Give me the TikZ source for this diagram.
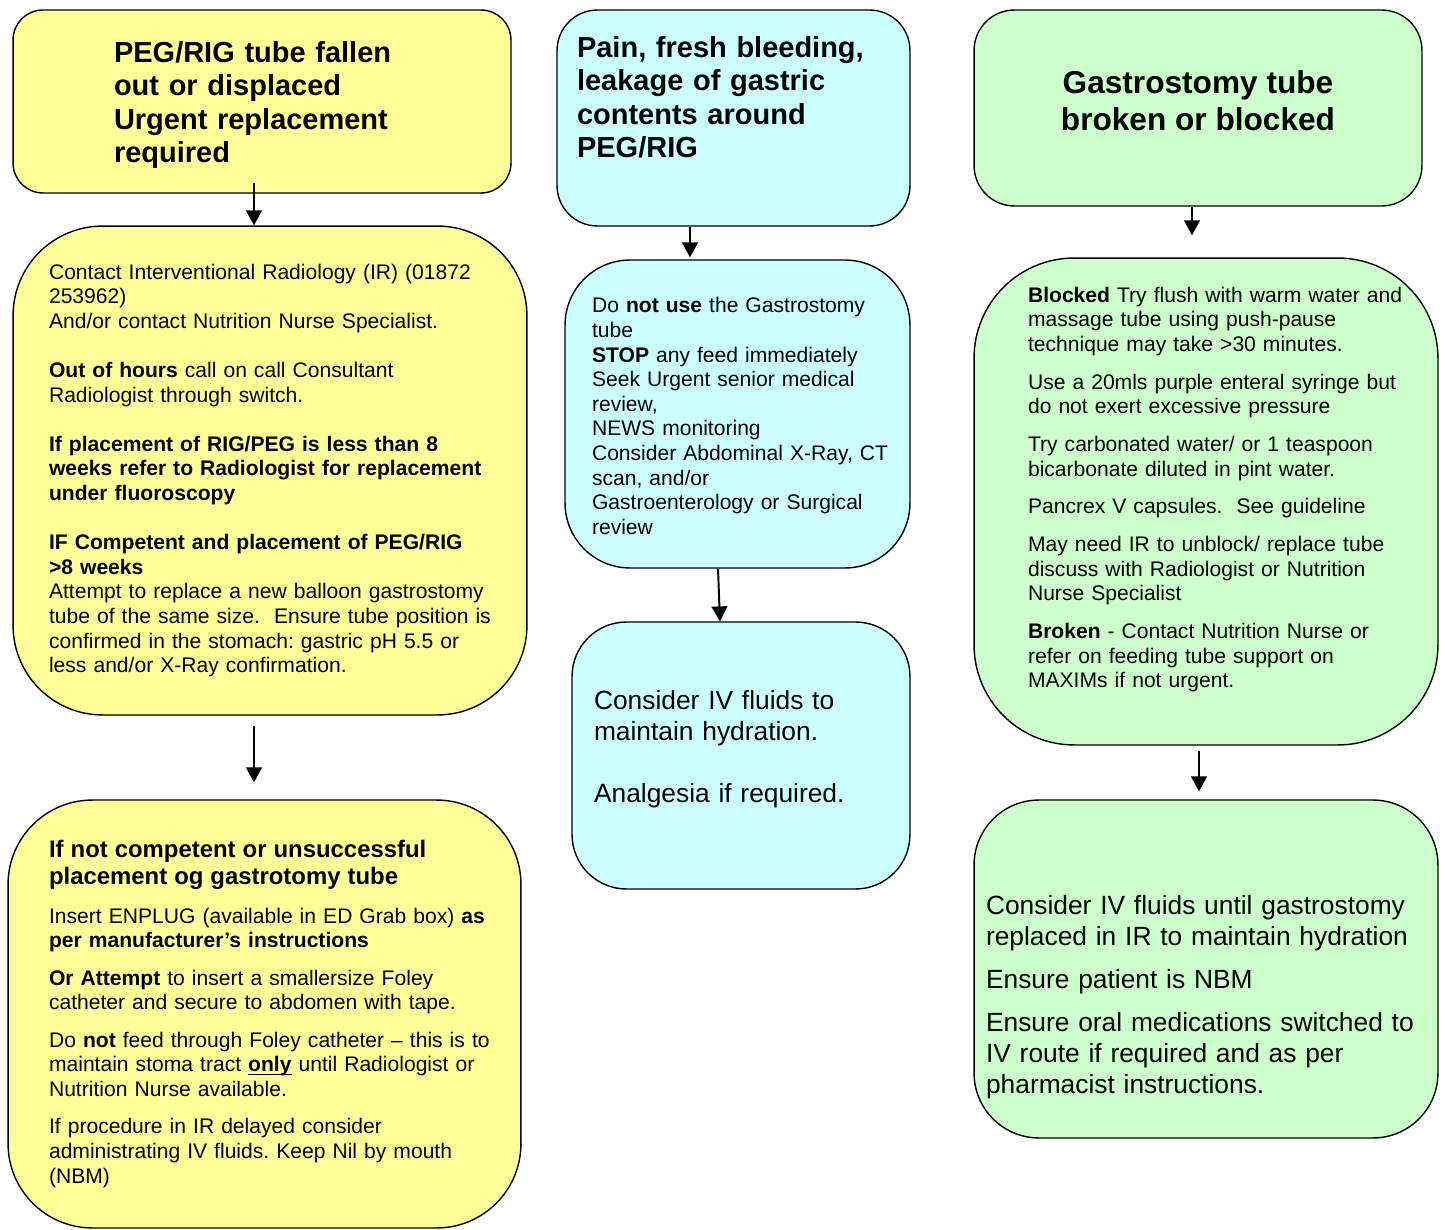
\documentclass[tikz,border=0pt]{standalone}
\usepackage{fontspec}
\setmainfont{Liberation Sans}
\usepackage{xcolor}
\usetikzlibrary{arrows, arrows.meta}
\definecolor{pegyellow}{HTML}{FFFF99}
\definecolor{painblue}{HTML}{CCFFFF}
\definecolor{tubegreen}{HTML}{CCFFCC}
\setlength{\parindent}{0pt}
\setlength{\parskip}{0pt}
\frenchspacing

\begin{document}
\begin{tikzpicture}[x=0.02cm, y=-0.02cm,
  box/.style={draw=black, line width=0.8pt, inner sep=0pt, align=left},
  head/.style={font=\fontsize{16.5}{19.1}\selectfont\bfseries},
  body/.style={font=\fontsize{12}{14}\selectfont},
  big/.style={font=\fontsize{15}{17.6}\selectfont},
  arr/.style={-{Triangle[width=9pt,length=8.5pt]}, line width=1.1pt}]
\useasboundingbox (0,0) rectangle (1445,1230);

\node[box, head, fill=pegyellow, rounded corners=17pt, minimum width=9.96cm, minimum height=3.66cm, text width=5.92cm] (fallen) at (262,101.5)
  {\rule{0pt}{16pt}PEG/RIG tube fallen\\ out or displaced\\ Urgent replacement\\ required};
\node[box, body, fill=pegyellow, rounded corners=51pt, minimum width=10.28cm, minimum height=9.78cm, text width=8.84cm] (contact) at (270,470.5)
  {Contact Interventional Radiology (IR) (01872\\ 253962)\\ And/or contact Nutrition Nurse Specialist.\par\vspace{14pt}
   \textbf{Out of hours} call on call Consultant\\ Radiologist through switch.\par\vspace{14pt}
   \textbf{If placement of RIG/PEG is less than 8\\ weeks refer to Radiologist for replacement\\ under fluoroscopy}\par\vspace{14pt}
   \textbf{IF Competent and placement of PEG/RIG\\ >8 weeks}\\ Attempt to replace a new balloon gastrostomy\\ \mbox{tube of the same size.\ \ Ensure tube position is}\\ confirmed in the stomach: gastric pH 5.5 or\\ less and/or X-Ray confirmation.};
\node[box, body, fill=pegyellow, rounded corners=48pt, minimum width=10.26cm, minimum height=8.56cm, text width=8.62cm] (enplug) at (264.5,1014)
  {{\fontsize{13.6}{15.3}\selectfont\bfseries If not competent or unsuccessful\\ placement og gastrotomy tube\par}\vspace{8pt}
   \mbox{Insert ENPLUG (available in ED Grab box) \textbf{as}}\\ \textbf{per manufacturer’s instructions}\par\vspace{7.3pt}
   \textbf{Or Attempt} to insert a smallersize Foley\\ catheter and secure to abdomen with tape.\par\vspace{7.3pt}
   \mbox{Do \textbf{not} feed through Foley catheter – this is to}\\ \mbox{maintain stoma tract \underline{\smash{\textbf{only}}} until Radiologist or}\\ Nutrition Nurse available.\par\vspace{7.3pt}
   If procedure in IR delayed consider\\ administrating IV fluids. Keep Nil by mouth\\ (NBM)};

\node[box, head, fill=painblue, rounded corners=23pt, minimum width=7.06cm, minimum height=4.32cm, text width=6.26cm] (pain) at (733.5,118)
  {Pain, fresh bleeding,\\ leakage of gastric\\ contents around\\ PEG/RIG\rule[-24pt]{0pt}{24pt}};
\node[box, body, fill=painblue, rounded corners=37pt, minimum width=6.9cm, minimum height=6.16cm, text width=5.82cm] (stopfeed) at (737.5,414)
  {\rule{0pt}{11pt}Do \textbf{not use} the Gastrostomy\\ tube\\ \textbf{STOP} any feed immediately\\ Seek Urgent senior medical\\ review,\\ NEWS monitoring\\ \mbox{Consider Abdominal X-Ray, CT}\\ scan, and/or\\ Gastroenterology or Surgical\\ review};
\node[box, big, fill=painblue, rounded corners=31pt, minimum width=6.76cm, minimum height=5.34cm, text width=5.88cm] (fluidsc) at (741,755.5)
  {Consider IV fluids to\\ maintain hydration.\par\vspace{17.6pt}
   Analgesia if required.\rule[-10pt]{0pt}{10pt}};

\node[box, font=\fontsize{18}{21}\selectfont\bfseries, align=center, fill=tubegreen, rounded corners=23pt, minimum width=8.96cm, minimum height=3.92cm] (broken) at (1198,108)
  {Gastrostomy tube\\ broken or blocked\rule[-8.5pt]{0pt}{8.5pt}};
\node[box, body, fill=tubegreen, rounded corners=57pt, minimum width=9.28cm, minimum height=9.74cm, text width=7.12cm] (flush) at (1206,501.5)
  {\mbox{\textbf{Blocked} Try flush with warm water and}\\ massage tube using push-pause\\ technique may take >30 minutes.\par\vspace{7.5pt}
   \mbox{Use a 20mls purple enteral syringe but}\\ do not exert excessive pressure\par\vspace{7.5pt}
   \mbox{Try carbonated water/ or 1 teaspoon}\\ bicarbonate diluted in pint water.\par\vspace{7.5pt}
   Pancrex V capsules.\ \ See guideline\par\vspace{7.5pt}
   \mbox{May need IR to unblock/ replace tube}\\ discuss with Radiologist or Nutrition\\ Nurse Specialist\par\vspace{7.5pt}
   \textbf{Broken} - Contact Nutrition Nurse or\\ refer on feeding tube support on\\ MAXIMs if not urgent.\rule[-16pt]{0pt}{16pt}};
\node[box, big, fill=tubegreen, rounded corners=37pt, minimum width=9.28cm, minimum height=6.76cm, text width=8.8cm] (fluidsg) at (1206,969)
  {\rule{0pt}{43pt}Consider IV fluids until gastrostomy\\ replaced in IR to maintain hydration\par\vspace{6.8pt}
   Ensure patient is NBM\par\vspace{6.8pt}
   Ensure oral medications switched to\\ IV route if required and as per\\ pharmacist instructions.};

\draw[arr] ([shift={(-8,-11)}]fallen.south) -- ([shift={(-16,0)}]contact.north);
\draw[arr] ([shift={(-16,10)}]contact.south) -- ([shift={(-10.5,-17)}]enplug.north);
\draw[arr] ([shift={(-43.5,0)}]pain.south) -- ([shift={(-47.5,-2)}]stopfeed.north);
\draw[arr] ([shift={(-19.5,0)}]stopfeed.south) -- ([shift={(-21,0)}]fluidsc.north);
\draw[arr] ([shift={(-6,0)}]broken.south) -- ([shift={(-14,-22)}]flush.north);
\draw[arr] ([shift={(-7,5)}]flush.south) -- ([shift={(-7,-8)}]fluidsg.north);
\end{tikzpicture}
\end{document}
